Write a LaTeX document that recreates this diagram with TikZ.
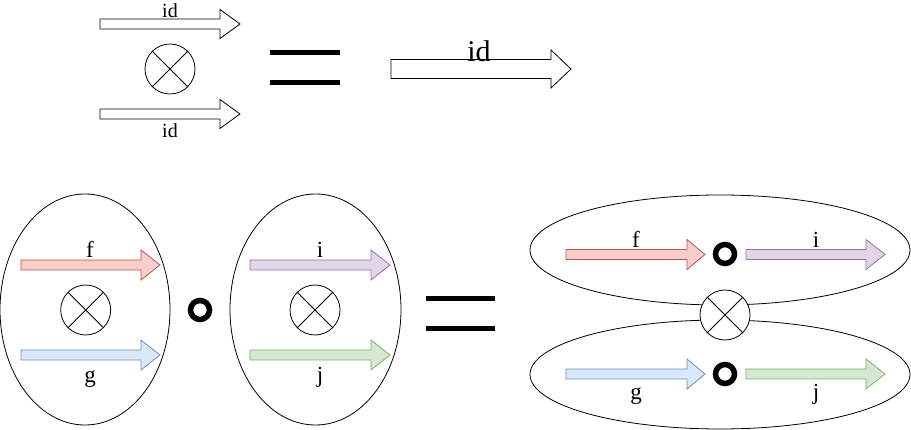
\documentclass[tikz,border=0pt]{standalone}
\usepackage{fontspec}
\setmainfont{Liberation Serif}
\definecolor{redF}{HTML}{F8CECC}\definecolor{redD}{HTML}{B85450}
\definecolor{bluF}{HTML}{DAE8FC}\definecolor{bluD}{HTML}{6C8EBF}
\definecolor{purF}{HTML}{E1D5E7}\definecolor{purD}{HTML}{9673A6}
\definecolor{grnF}{HTML}{D5E8D4}\definecolor{grnD}{HTML}{82B366}
\newcommand\fatarr[7]{% style, x0, y, xhead, xtip, shaft half, head half
  \draw[#1] (#2,#3-#6) -- (#4,#3-#6) -- (#4,#3-#7) -- (#5,#3) -- (#4,#3+#7) -- (#4,#3+#6) -- (#2,#3+#6) -- cycle;}
\tikzset{
  arrbase/.style={line width=0.8pt, line join=miter},
  plainarr/.style={arrbase, draw=black, fill=white},
  redarr/.style={arrbase, draw=redD, fill=redF},
  bluarr/.style={arrbase, draw=bluD, fill=bluF},
  purarr/.style={arrbase, draw=purD, fill=purF},
  grnarr/.style={arrbase, draw=grnD, fill=grnF},
  tensor/.style={circle, draw, line width=0.8pt, fill=white, minimum size=50pt, inner sep=0pt,
    path picture={\draw[line width=0.8pt] (path picture bounding box.north west) -- (path picture bounding box.south east)
      (path picture bounding box.north east) -- (path picture bounding box.south west);}},
  compo/.style={circle, draw, line width=5.5pt, minimum size=19pt, inner sep=0pt},
  blob/.style={draw, line width=0.8pt},
  bar/.style={line width=5pt},
  lbl/.style={inner sep=0pt, anchor=base, font=\fontsize{23}{25}\selectfont},
  slbl/.style={inner sep=0pt, anchor=base, font=\fontsize{20}{22}\selectfont},
  blbl/.style={inner sep=0pt, anchor=base, font=\fontsize{30}{32}\selectfont},
}
\begin{document}
\begin{tikzpicture}[x=1pt,y=-1pt]
\useasboundingbox (0,0) rectangle (911,430);
% top
\fatarr{plainarr}{100}{24}{220}{240}{5}{14.5}
\node[slbl] (id1) at (170,18) {id};
\node[tensor] (t0) at (170,69) {};
\fatarr{plainarr}{100}{114}{220}{240}{5}{14.5}
\node[slbl] (id2) at (170,138) {id};
\draw[bar] (270,53) -- (340,53);
\draw[bar] (270,83) -- (340,83);
\fatarr{plainarr}{391}{69}{551}{571}{9.5}{19}
\node[blbl] (id3) at (479,62) {id};
% bottom left
\draw[blob] (85,309.5) ellipse [x radius=85pt, y radius=115.5pt];
\fatarr{redarr}{21}{265}{141}{160}{5}{15}
\node[lbl] (f1) at (90,258) {f};
\node[tensor] (t1) at (85.7,310) {};
\fatarr{bluarr}{21}{355}{141}{160}{5}{15}
\node[lbl] (g1) at (90,383) {g};
\node[compo] (c0) at (200,310) {};
\draw[blob] (315.5,309.5) ellipse [x radius=85.5pt, y radius=115.5pt];
\fatarr{purarr}{250}{265}{371}{390}{5}{15}
\node[lbl] (i1) at (320,258) {i};
\node[tensor] (t2) at (315,310) {};
\fatarr{grnarr}{250}{355}{371}{390}{5}{15}
\node[lbl] (j1) at (320,383) {j};
\draw[bar] (426,299) -- (495,299);
\draw[bar] (426,329) -- (495,329);
% right
\draw[blob] (720,250) ellipse [x radius=190pt, y radius=55pt];
\draw[blob] (720,374.5) ellipse [x radius=190pt, y radius=54.5pt];
\node[tensor] (t3) at (725,315) {};
\fatarr{redarr}{566}{254.5}{687}{705}{5}{15}
\node[lbl] (f2) at (636,248) {f};
\node[compo] (c1) at (725,254) {};
\fatarr{purarr}{746}{254.5}{866}{885}{5}{15}
\node[lbl] (i2) at (816,248) {i};
\fatarr{bluarr}{566}{374}{687}{705}{5}{15}
\node[lbl] (g2) at (636,400) {g};
\node[compo] (c2) at (725,374) {};
\fatarr{grnarr}{746}{374}{866}{885}{5}{15}
\node[lbl] (j2) at (816,400) {j};
\end{tikzpicture}
\end{document}
